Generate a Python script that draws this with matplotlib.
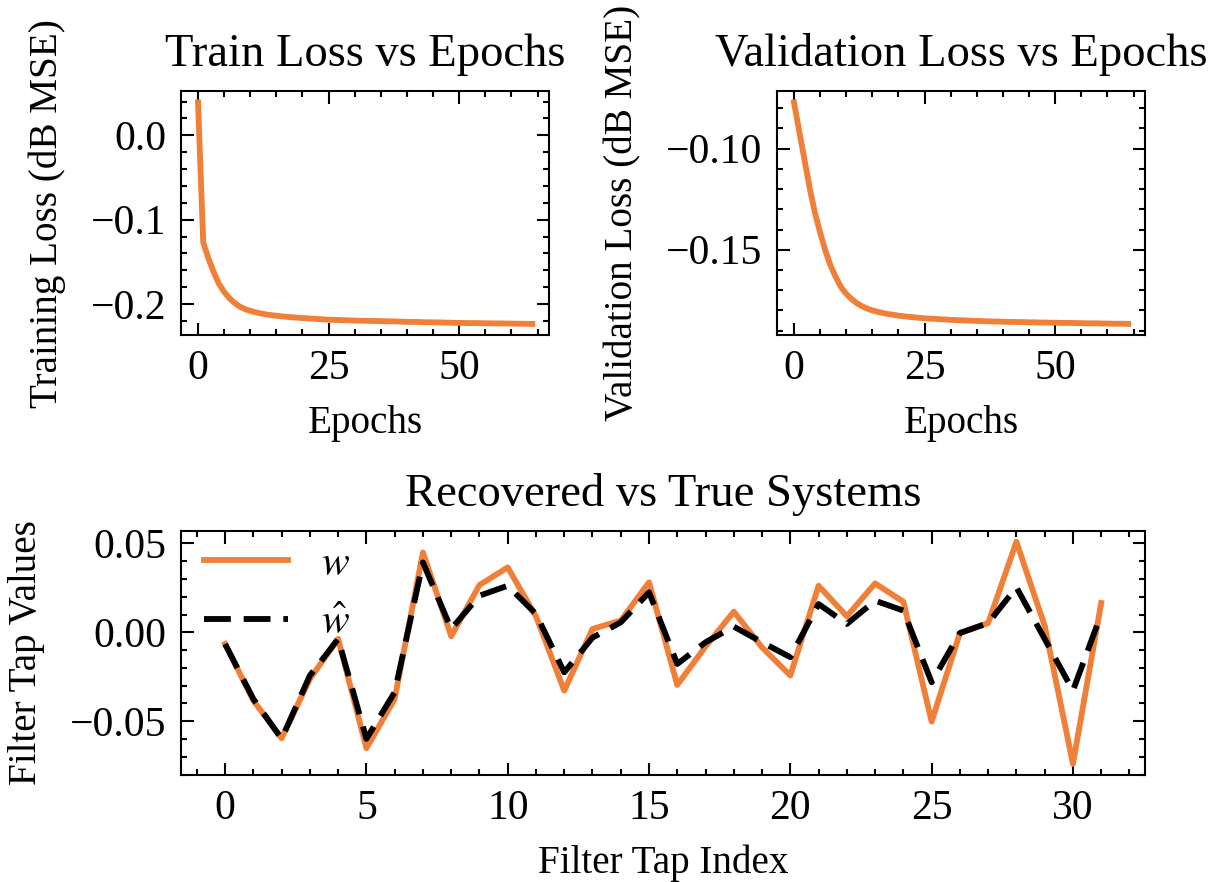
import matplotlib
matplotlib.use("Agg")
import matplotlib.pyplot as plt
from matplotlib.ticker import AutoMinorLocator, MultipleLocator

# ---------------- data ----------------
train_loss = [0.039, -0.127, -0.146, -0.162, -0.176, -0.1855, -0.193, -0.1985, -0.203, -0.206,
              -0.208, -0.2097, -0.211, -0.2122, -0.2131, -0.2138, -0.2145, -0.2151, -0.2156, -0.2161,
              -0.2165, -0.2169, -0.2173, -0.2177, -0.2181, -0.2185, -0.2187, -0.2189, -0.2191, -0.2193,
              -0.2195, -0.2197, -0.2198, -0.2200, -0.2201, -0.2202, -0.2204, -0.2205, -0.2206, -0.2208,
              -0.2210, -0.2211, -0.2212, -0.2214, -0.2215, -0.2216, -0.2217, -0.2219, -0.2220, -0.2222,
              -0.2223, -0.2224, -0.2225, -0.2225, -0.2226, -0.2227, -0.2228, -0.2229, -0.2229, -0.2230,
              -0.2231, -0.2232, -0.2233, -0.2234, -0.2235]

val_loss = [-0.0771, -0.0915, -0.1054, -0.1194, -0.1317, -0.1415, -0.1505, -0.1579, -0.1636, -0.1685,
            -0.1718, -0.1743, -0.1764, -0.1779, -0.1791, -0.1800, -0.1807, -0.1813, -0.1818, -0.1822,
            -0.1826, -0.1829, -0.1832, -0.1834, -0.1837, -0.1839, -0.1841, -0.1842, -0.1844, -0.1845,
            -0.1847, -0.1848, -0.1849, -0.1850, -0.1851, -0.1852, -0.1853, -0.1854, -0.1855, -0.1855,
            -0.1856, -0.1857, -0.1857, -0.1858, -0.1858, -0.1859, -0.1859, -0.1860, -0.1860, -0.1861,
            -0.1861, -0.1862, -0.1862, -0.1862, -0.1863, -0.1863, -0.1864, -0.1864, -0.1864, -0.1865,
            -0.1865, -0.1866, -0.1866, -0.1866, -0.1867]

w_true = [-0.0066, -0.0384, -0.0596, -0.0262, -0.0037, -0.0652, -0.0375, 0.0449, -0.0022, 0.0266,
          0.0365, 0.0090, -0.0328, 0.0019, 0.0066, 0.0281, -0.0296, -0.0080, 0.0116, -0.0085,
          -0.0243, 0.0262, 0.0090, 0.0275, 0.0172, -0.0502, -0.0004, 0.0052, 0.0509, 0.0037,
          -0.0740, 0.0165]

w_hat = [-0.0066, -0.0375, -0.0599, -0.0243, -0.0037, -0.0599, -0.0337, 0.0393, 0.0019, 0.0206,
         0.0262, 0.0103, -0.0225, -0.0030, 0.0056, 0.0225, -0.0178, -0.0056, 0.0032, -0.0056,
         -0.0140, 0.0159, 0.0047, 0.0178, 0.0122, -0.0281, -0.0004, 0.0052, 0.0253, -0.0037,
         -0.0328, 0.0103]

epochs = list(range(len(train_loss)))
taps = list(range(len(w_true)))

# ---------------- style ----------------
plt.rcParams.update({
    "font.family": ["Liberation Serif", "DejaVu Serif"],
    "mathtext.fontset": "stix",
    "font.size": 9.4,
    "axes.labelsize": 9.4,
    "axes.labelpad": 6,
    "xtick.labelsize": 10,
    "ytick.labelsize": 10,
    "legend.fontsize": 10,
    "axes.titlesize": 11.2,
    "axes.linewidth": 0.5,
    "xtick.direction": "in",
    "ytick.direction": "in",
    "xtick.top": True,
    "ytick.right": True,
    "xtick.major.size": 3,
    "ytick.major.size": 3,
    "xtick.minor.size": 1.5,
    "ytick.minor.size": 1.5,
    "xtick.major.width": 0.5,
    "ytick.major.width": 0.5,
    "xtick.minor.width": 0.5,
    "ytick.minor.width": 0.5,
    "xtick.minor.visible": True,
    "ytick.minor.visible": True,
    "legend.frameon": False,
    "lines.linewidth": 1.4,
})

ORANGE = "#F07F38"

W, H, DPI = 1214, 882, 300
fig = plt.figure(figsize=(W / DPI, H / DPI), dpi=DPI)

def frac(l, t, r, b):
    return [l / W, 1 - b / H, (r - l) / W, (b - t) / H]

ax1 = fig.add_axes(frac(181.3, 91.3, 549, 335))
ax2 = fig.add_axes(frac(777.3, 91.3, 1145, 335))
ax3 = fig.add_axes(frac(181.3, 530.7, 1145, 775))

ax1.plot(epochs, train_loss, color=ORANGE)
ax1.set_title("Train Loss vs Epochs")
ax1.set_xlabel("Epochs", labelpad=4)
ax1.set_ylabel("Training Loss (dB MSE)")
ax1.xaxis.set_major_locator(MultipleLocator(25))
ax1.yaxis.set_major_locator(MultipleLocator(0.1))

ax2.plot(epochs, val_loss, color=ORANGE)
ax2.set_title("Validation Loss vs Epochs")
ax2.set_xlabel("Epochs", labelpad=4)
ax2.set_ylabel("Validation Loss (dB MSE)")
ax2.xaxis.set_major_locator(MultipleLocator(25))
ax2.yaxis.set_major_locator(MultipleLocator(0.05))

ax3.plot(taps, w_true, color=ORANGE, label=r"$w$")
ax3.plot(taps, w_hat, color="black", linestyle=(0, (4.6, 2.2)), label=r"$\hat{w}$")
ax3.set_title("Recovered vs True Systems")
ax3.set_xlabel("Filter Tap Index", labelpad=4)
ax3.set_ylabel("Filter Tap Values")
ax3.xaxis.set_major_locator(MultipleLocator(5))
ax3.yaxis.set_major_locator(MultipleLocator(0.05))
ax3.legend(loc="upper left", handlelength=2.0, borderaxespad=0.15,
           bbox_to_anchor=(0.0, 1.035))

for ax in (ax1, ax2, ax3):
    ax.xaxis.set_minor_locator(AutoMinorLocator(5))
    ax.yaxis.set_minor_locator(AutoMinorLocator(5))

fig.savefig("out.png", dpi=DPI)
